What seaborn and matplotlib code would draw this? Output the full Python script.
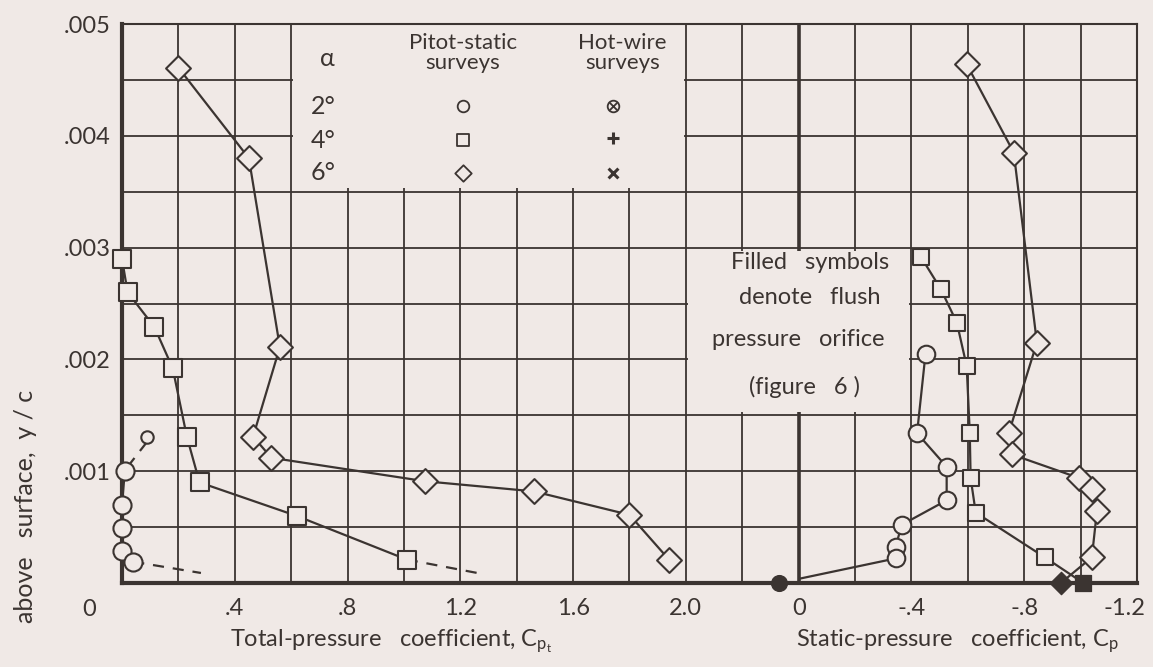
import numpy as np
import matplotlib
matplotlib.use("Agg")
import matplotlib.pyplot as plt
import matplotlib.transforms as mtransforms
import seaborn as sns
from matplotlib.patches import Rectangle

# -----------------------------
# Data
# -----------------------------
# total-pressure coefficient (left part), y/c above surface
cpt_2 = [0.01, 0.0, 0.0, 0.0, 0.04]
y_2 = [0.00100, 0.00070, 0.00049, 0.00029, 0.00019]
cpt_2_flag = [0.09]
y_2_flag = [0.00131]
cpt_2_dash = [0.04, 0.28]
y_2_dash = [0.00019, 0.00009]
cpt_2_flag_dash = [0.02, 0.085]
y_2_flag_dash = [0.00104, 0.00125]

cpt_4 = [0.0, 0.02, 0.115, 0.18, 0.23, 0.275, 0.62, 1.01]
y_4 = [0.00290, 0.00260, 0.00229, 0.00192, 0.00131, 0.00090, 0.00060, 0.00021]
cpt_4_dash = [1.01, 1.26]
y_4_dash = [0.00021, 0.00009]

cpt_6 = [0.20, 0.45, 0.56, 0.465, 0.53, 1.076, 1.46, 1.80, 1.94]
y_6 = [0.00461, 0.00380, 0.00211, 0.00131, 0.00112, 0.00091, 0.00082, 0.00061, 0.00021]

# static-pressure coefficient (right part)
cp_2 = [-0.45, -0.42, -0.525, -0.525, -0.365, -0.344, -0.344]
ycp_2 = [0.00205, 0.00134, 0.00104, 0.00074, 0.00052, 0.00032, 0.00022]
cp_4 = [-0.433, -0.504, -0.561, -0.596, -0.607, -0.61, -0.628, -0.873]
ycp_4 = [0.00292, 0.00263, 0.00233, 0.00194, 0.00134, 0.00094, 0.00063, 0.00023]
cp_6 = [-0.596, -0.763, -0.845, -0.745, -0.756, -0.994, -1.04, -1.058, -1.04]
ycp_6 = [0.00464, 0.00385, 0.00215, 0.00134, 0.00115, 0.00094, 0.00084, 0.000645, 0.00023]

# flush orifice values (filled symbols, at the surface)
cp_flush = [0.07, -1.01, -0.93]
markers_flush = ["o", "s", "D"]

cpt_ticks = [0.4, 0.8, 1.2, 1.6, 2.0]
cpt_labels = [".4", ".8", "1.2", "1.6", "2.0"]
cp_ticks = [0.0, -0.4, -0.8, -1.2]
cp_labels = ["0", "-.4", "-.8", "-1.2"]
y_ticks = [0.001, 0.002, 0.003, 0.004, 0.005]
y_labels = [".001", ".002", ".003", ".004", ".005"]

BG = "#f0e9e6"
INK = "#3b3431"

sns.set_theme(style="white")
plt.rcParams["font.family"] = ["Lato", "DejaVu Sans"]
plt.rcParams["mathtext.default"] = "regular"
plt.rcParams["text.color"] = INK

fig = plt.figure(figsize=(11.53, 6.67), dpi=100, facecolor=BG)
ax = fig.add_axes([0.1058, 0.1259, 0.8803, 0.8381], facecolor=BG)

# main axes spans 0..3.6 grid units: 0..2.4 total pressure, rest is the static scale
ax.set_xlim(0, 3.6)
ax.set_ylim(0, 0.005)
ax.set_xticks(cpt_ticks)
ax.set_xticklabels(cpt_labels)
ax.set_xticks(np.arange(0, 3.61, 0.2), minor=True)
ax.set_yticks(y_ticks)
ax.set_yticklabels(y_labels)
ax.set_yticks(np.arange(0, 0.00501, 0.0005), minor=True)
ax.tick_params(which="both", length=0, labelsize=17, labelcolor=INK)
ax.tick_params(axis="x", pad=11)
ax.tick_params(axis="y", pad=8)
ax.grid(True, which="both", color=INK, lw=1.3)
ax.set_axisbelow(True)
for side, sp in ax.spines.items():
    sp.set_color(INK)
    sp.set_linewidth(3 if side in ("left", "bottom") else 1.5)
ax.text(-0.115, -0.00024, "0", fontsize=17, ha="center", va="center", color=INK)

# heavy line at static-pressure zero
ax.axvline(2.4, color=INK, lw=2.6, zorder=0.8)

# blank boxes for legend and note
ax.add_patch(Rectangle((0.6 + 0.008, 0.0035 + 0.00003), 1.4 - 0.016, 0.0015,
                       facecolor=BG, edgecolor="none", zorder=1))
ax.add_patch(Rectangle((2.0 + 0.008, 0.0015 + 0.00003), 0.8 - 0.016, 0.0015 - 0.00006,
                       facecolor=BG, edgecolor="none", zorder=1))

line_kw = dict(color=INK, lw=1.6, sort=False, estimator=None, legend=False, zorder=2)
dash_kw = dict(color=INK, lw=1.6, sort=False, estimator=None, legend=False, zorder=2,
               dashes=(5, 4))
pt_kw = dict(color=BG, edgecolor=INK, linewidth=1.5, legend=False, zorder=3, clip_on=False)

# total pressure curves
sns.lineplot(x=cpt_2, y=y_2, ax=ax, **line_kw)
sns.lineplot(x=cpt_2_dash, y=y_2_dash, ax=ax, **dash_kw)
sns.lineplot(x=cpt_2_flag_dash, y=y_2_flag_dash, ax=ax, **dash_kw)
sns.lineplot(x=cpt_4, y=y_4, ax=ax, **line_kw)
sns.lineplot(x=cpt_4_dash, y=y_4_dash, ax=ax, **dash_kw)
sns.lineplot(x=cpt_6, y=y_6, ax=ax, **line_kw)
sns.scatterplot(x=cpt_2, y=y_2, marker="o", s=170, ax=ax, **pt_kw)
sns.scatterplot(x=cpt_2_flag, y=y_2_flag, marker="o", s=80, ax=ax, **pt_kw)
sns.scatterplot(x=cpt_4, y=y_4, marker="s", s=160, ax=ax, **pt_kw)
sns.scatterplot(x=cpt_6, y=y_6, marker="D", s=160, ax=ax, **pt_kw)

# static pressure on its own scale over the right third
ax2 = ax.inset_axes([2.4 / 3.6, 0, 1.2 / 3.6, 1], sharey=ax)
ax2.set_xlim(0, -1.2)
ax2.patch.set_visible(False)
for sp in ax2.spines.values():
    sp.set_visible(False)
ax2.set_xticks(cp_ticks)
ax2.set_xticklabels(cp_labels)
ax2.tick_params(which="both", length=0, labelsize=17, labelcolor=INK, pad=11)
ax2.tick_params(axis="y", labelleft=False)
ax2.grid(False)
# nudge the last label so it stays inside the picture
last = ax2.get_xticklabels()[-1]
last.set_transform(last.get_transform() +
                   mtransforms.ScaledTranslation(-9 / 72, 0, fig.dpi_scale_trans))

sns.lineplot(x=cp_2 + [cp_flush[0]], y=ycp_2 + [0.0], ax=ax2, **line_kw)
sns.lineplot(x=cp_4 + [cp_flush[1]], y=ycp_4 + [0.0], ax=ax2, **line_kw)
sns.lineplot(x=cp_6 + [cp_flush[2]], y=ycp_6 + [0.0], ax=ax2, **line_kw)
sns.scatterplot(x=cp_2, y=ycp_2, marker="o", s=160, ax=ax2, **pt_kw)
sns.scatterplot(x=cp_4, y=ycp_4, marker="s", s=140, ax=ax2, **pt_kw)
sns.scatterplot(x=cp_6, y=ycp_6, marker="D", s=160, ax=ax2, **pt_kw)
for xv, mk in zip(cp_flush, markers_flush):
    sns.scatterplot(x=[xv], y=[0.0], marker=mk, s=130, color=INK, edgecolor=INK,
                    legend=False, zorder=4, clip_on=False, ax=ax2)
ax2.set_xlabel("")
ax2.set_ylabel("")
ax.set_xlabel("")
ax.set_ylabel("")

# hand-made key
ax.text(0.728, 0.00469, r"$\alpha$", fontsize=18, ha="center", va="center", color=INK)
for yy, lab in zip([0.00426, 0.00396, 0.00367], ["2°", "4°", "6°"]):
    ax.text(0.713, yy, lab, fontsize=18, ha="center", va="center", color=INK)
ax.text(1.21, 0.00474, "Pitot-static\nsurveys", fontsize=16, ha="center", va="center",
        linespacing=1.0, color=INK)
ax.text(1.775, 0.00474, "Hot-wire\nsurveys", fontsize=16, ha="center", va="center",
        linespacing=1.0, color=INK)
for yy, mk in zip([0.00427, 0.00396, 0.00367], ["o", "s", "D"]):
    ax.scatter([1.21], [yy], marker=mk, s=70, facecolor=BG, edgecolor=INK, lw=1.3, zorder=3)
ax.scatter([1.743], [0.00427], marker="o", s=70, facecolor=BG, edgecolor=INK, lw=1.3, zorder=3)
ax.scatter([1.743], [0.00427], marker="x", s=30, color=INK, lw=1.3, zorder=4)
ax.scatter([1.743], [0.00398], marker="+", s=80, color=INK, lw=2.2, zorder=3)
ax.scatter([1.743], [0.00367], marker="x", s=50, color=INK, lw=2.2, zorder=3)

# note
note_kw = dict(fontsize=17, ha="center", va="center", color=INK)
ax.text(2.44, 0.00287, "Filled   symbols", **note_kw)
ax.text(2.44, 0.00255, "denote   flush", **note_kw)
ax.text(2.40, 0.00218, "pressure   orifice", **note_kw)
ax.text(2.42, 0.00175, "(figure   6 )", **note_kw)

# axis titles
fig.text(0.339, 0.0385, "Total-pressure   coefficient, C$_{p_t}$", fontsize=17,
         ha="center", va="center", color=INK)
fig.text(0.830, 0.0385, "Static-pressure   coefficient, C$_p$", fontsize=17,
         ha="center", va="center", color=INK)
fig.text(0.0217, 0.24, "above   surface,  y / c", fontsize=18, rotation=90,
         ha="center", va="center", color=INK)

fig.savefig("out.png", dpi=100, facecolor=BG)
